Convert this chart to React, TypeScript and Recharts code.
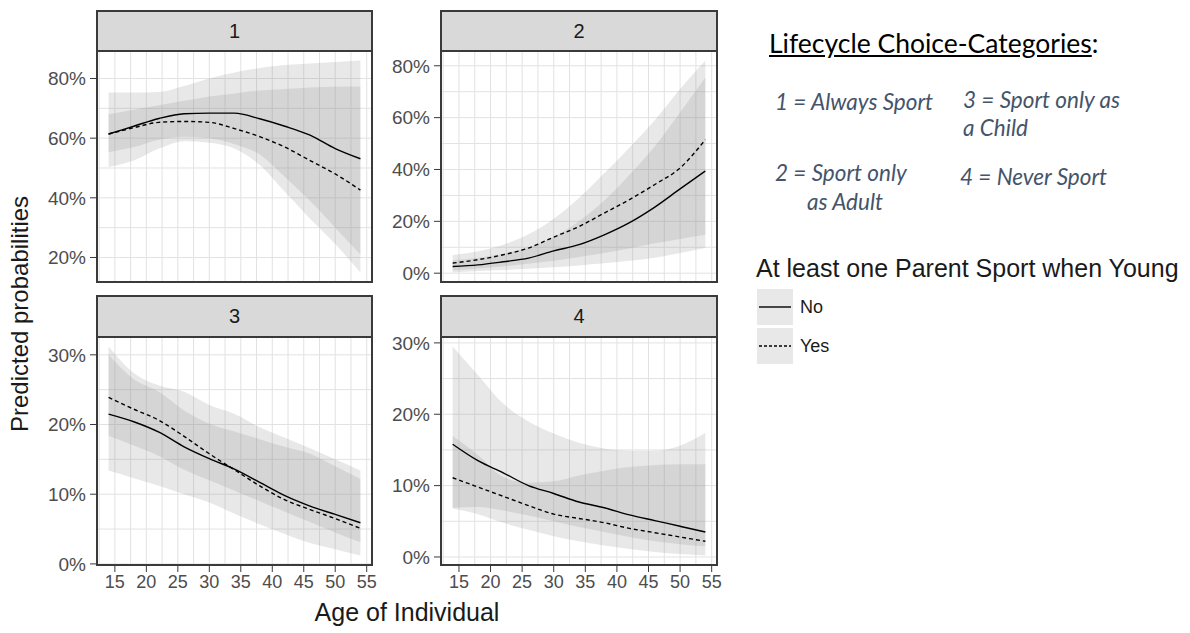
import React from 'react';
import { ComposedChart, Area, Line, XAxis, YAxis, CartesianGrid } from 'recharts';

const ages = [14, 18, 22, 26, 30, 34, 38, 42, 46, 50, 54];
const ageTicks = [15, 20, 25, 30, 35, 40, 45, 50, 55];
const ageMinor = [12.5, 17.5, 22.5, 27.5, 32.5, 37.5, 42.5, 47.5, 52.5];

// 1 = Always Sport
const c1NoFit = [61.4, 64, 66.6, 68.2, 68.4, 68.4, 66.5, 64, 61, 56.5, 53.1];
const c1NoLow = [55.3, 57, 59.5, 60.5, 60, 58, 54.5, 47, 39, 30, 21];
const c1NoHigh = [75.3, 75.3, 75.5, 77.5, 80, 82, 83.5, 84.5, 85, 85.5, 86];
const c1YesFit = [61.4, 63.5, 65.3, 65.6, 65.3, 63.2, 60.5, 57, 52.5, 48, 42.6];
const c1YesLow = [50.3, 52.5, 56.5, 59, 58.5, 56.5, 51, 42, 33, 24.5, 15];
const c1YesHigh = [68, 69.5, 71, 72.5, 74, 75, 76, 76.5, 77, 77.2, 77.3];

// 2 = Sport only as Adult
const c2NoFit = [2.6, 3.2, 4.4, 5.8, 8.6, 11, 14.8, 19.5, 25.5, 32.5, 39.4];
const c2NoLow = [0.3, 0.8, 1.2, 1.7, 2.3, 3, 3.8, 4.8, 6, 7.8, 9.7];
const c2NoHigh = [5, 6, 7.5, 10, 14, 20, 28, 38, 49, 62, 75.5];
const c2YesFit = [3.9, 5.2, 7.1, 9.7, 13.9, 18, 23.2, 28.4, 34.2, 40.6, 51.5];
const c2YesLow = [1, 1.8, 2.6, 3.6, 4.8, 6.2, 7.8, 9.5, 11.5, 13.2, 14.8];
const c2YesHigh = [7, 8.5, 11, 15, 21, 29, 38.5, 48.5, 59, 71, 82];

// 3 = Sport only as a Child
const c3NoFit = [21.5, 20.4, 18.9, 16.8, 15.1, 13.6, 11.7, 9.8, 8.3, 7.1, 5.9];
const c3NoLow = [18.4, 17, 15.5, 13.5, 12, 10.5, 9, 7.5, 6, 4.5, 3.1];
const c3NoHigh = [30, 26.5, 24.7, 22, 20.1, 19, 17.9, 16.8, 15.8, 14, 12.2];
const c3YesFit = [23.9, 22.2, 20.6, 18.3, 15.8, 13.5, 11.2, 9.2, 7.8, 6.5, 5.1];
const c3YesLow = [13.4, 12.3, 11.2, 10, 8.8, 7.2, 5.7, 4.3, 3, 2.1, 1.2];
const c3YesHigh = [31.2, 27.4, 25.6, 24.7, 22.8, 21.5, 19.6, 18.1, 16.6, 15, 13.4];

// 4 = Never Sport
const c4NoFit = [15.8, 13.5, 11.8, 10, 8.9, 7.7, 6.9, 5.9, 5.1, 4.3, 3.5];
const c4NoLow = [6.9, 7, 6.5, 5.8, 5, 4.2, 3.5, 2.8, 2.2, 1.8, 1.5];
const c4NoHigh = [29.5, 25.5, 21.5, 19, 17.3, 16, 15.2, 14.9, 14.9, 15.6, 17.4];
const c4YesFit = [11.1, 9.8, 8.5, 7.2, 6, 5.4, 4.8, 4, 3.4, 2.8, 2.2];
const c4YesLow = [6.8, 6, 4.8, 3.8, 2.9, 2.2, 1.6, 1.1, 0.7, 0.4, 0.2];
const c4YesHigh = [17, 14.3, 11.2, 10.4, 10.6, 11.4, 12.1, 12.6, 12.9, 13, 13];

const X_DOMAIN = [12, 56];
const Y_W = 60;
const X_H = 32;
const MT = 14; // room above the plot so the top tick label is not clipped
const MR = 16; // room right of the plot for the "55" label
const BORDER = '#3a3a3a';
const RIBBON = '#8c8c8c';

function buildRows(noFit, noLow, noHigh, yesFit, yesLow, yesHigh) {
  return ages.map((age, i) => ({
    age,
    noFit: noFit[i],
    yesFit: yesFit[i],
    noBand: [noLow[i], noHigh[i]],
    yesBand: [yesLow[i], yesHigh[i]],
  }));
}

// ggplot-style 5% expansion of the data range
function expand(...arrs) {
  const all = arrs.flat();
  const lo = Math.min(...all);
  const hi = Math.max(...all);
  const pad = (hi - lo) * 0.05;
  return [lo - pad, hi + pad];
}

// grid positions through the axis scale (fallback: linear over the plot box)
function gridX(values) {
  return ({ xAxis, offset }) => {
    const s = xAxis && xAxis.scale;
    if (typeof s === 'function') return values.map((v) => s(v));
    return values.map((v) => offset.left + ((v - X_DOMAIN[0]) / (X_DOMAIN[1] - X_DOMAIN[0])) * offset.width);
  };
}
function gridY(values, domain) {
  return ({ yAxis, offset }) => {
    const s = yAxis && yAxis.scale;
    if (typeof s === 'function') return values.map((v) => s(v));
    return values.map((v) => offset.top + ((domain[1] - v) / (domain[1] - domain[0])) * offset.height);
  };
}

function Panel({ label, rows, domain, yTicks, yMinor, left, top, plotW, plotH, stripTop, showX }) {
  const h = MT + plotH + (showX ? X_H : 0);
  return (
    <>
      <div
        style={{
          position: 'absolute',
          left,
          top: stripTop,
          width: plotW,
          height: top - stripTop + 2,
          boxSizing: 'border-box',
          background: '#d9d9d9',
          border: `2px solid ${BORDER}`,
          display: 'flex',
          alignItems: 'center',
          justifyContent: 'center',
          fontSize: 20,
          color: '#1a1a1a',
        }}
      >
        {label}
      </div>
      <div style={{ position: 'absolute', left: left - Y_W, top: top - MT }}>
        <ComposedChart width={Y_W + plotW + MR} height={h} data={rows} margin={{ top: MT, right: MR, bottom: 0, left: 0 }}>
          <CartesianGrid
            stroke="#e2e2e2"
            verticalCoordinatesGenerator={gridX([...ageMinor, ...ageTicks])}
            horizontalCoordinatesGenerator={gridY([...yMinor, ...yTicks], domain)}
          />
          <XAxis
            dataKey="age"
            type="number"
            domain={X_DOMAIN}
            ticks={ageTicks}
            interval={0}
            hide={!showX}
            height={X_H}
            axisLine={false}
            tickLine={{ stroke: BORDER }}
            tickSize={6}
            tickMargin={3}
            tick={{ fill: '#4d4d4d', fontSize: 18 }}
            allowDataOverflow
          />
          <YAxis
            type="number"
            domain={domain}
            ticks={yTicks}
            interval={0}
            width={Y_W}
            axisLine={false}
            tickLine={{ stroke: BORDER }}
            tickSize={6}
            tickMargin={4}
            tick={{ fill: '#4d4d4d', fontSize: 19 }}
            tickFormatter={(v) => `${v}%`}
            allowDataOverflow
          />
          <Area dataKey="noBand" type="monotone" fill={RIBBON} fillOpacity={0.2} stroke="none" isAnimationActive={false} />
          <Area dataKey="yesBand" type="monotone" fill={RIBBON} fillOpacity={0.2} stroke="none" isAnimationActive={false} />
          <Line dataKey="noFit" type="monotone" stroke="#000" strokeWidth={1.4} dot={false} isAnimationActive={false} />
          <Line
            dataKey="yesFit"
            type="monotone"
            stroke="#000"
            strokeWidth={1.4}
            strokeDasharray="4 3"
            dot={false}
            isAnimationActive={false}
          />
        </ComposedChart>
      </div>
      <div
        style={{
          position: 'absolute',
          left,
          top,
          width: plotW,
          height: plotH,
          boxSizing: 'border-box',
          border: `2px solid ${BORDER}`,
          pointerEvents: 'none',
        }}
      />
    </>
  );
}

const note = { position: 'absolute', fontFamily: 'Lato, "Open Sans", sans-serif', fontStyle: 'italic', fontSize: 22.5, color: '#44546a', lineHeight: 1, whiteSpace: 'nowrap' };

export default function App() {
  const rows1 = buildRows(c1NoFit, c1NoLow, c1NoHigh, c1YesFit, c1YesLow, c1YesHigh);
  const rows2 = buildRows(c2NoFit, c2NoLow, c2NoHigh, c2YesFit, c2YesLow, c2YesHigh);
  const rows3 = buildRows(c3NoFit, c3NoLow, c3NoHigh, c3YesFit, c3YesLow, c3YesHigh);
  const rows4 = buildRows(c4NoFit, c4NoLow, c4NoHigh, c4YesFit, c4YesLow, c4YesHigh);

  return (
    <div
      style={{
        position: 'absolute',
        left: 0,
        top: 0,
        width: 1190,
        height: 633,
        background: '#fff',
        fontFamily: '"Liberation Sans", Arial, sans-serif',
        overflow: 'hidden',
      }}
    >
      <Panel label="1" rows={rows1} domain={expand(c1NoLow, c1NoHigh, c1YesLow, c1YesHigh)}
        yTicks={[20, 40, 60, 80]} yMinor={[30, 50, 70]} left={96} top={50} plotW={277} plotH={233} stripTop={10} showX={false} />
      <Panel label="2" rows={rows2} domain={expand(c2NoLow, c2NoHigh, c2YesLow, c2YesHigh)}
        yTicks={[0, 20, 40, 60, 80]} yMinor={[10, 30, 50, 70]} left={440} top={50} plotW={278} plotH={233} stripTop={10} showX={false} />
      <Panel label="3" rows={rows3} domain={expand(c3NoLow, c3NoHigh, c3YesLow, c3YesHigh)}
        yTicks={[0, 10, 20, 30]} yMinor={[5, 15, 25]} left={96} top={336} plotW={277} plotH={230} stripTop={295} showX />
      <Panel label="4" rows={rows4} domain={expand(c4NoLow, c4NoHigh, c4YesLow, c4YesHigh)}
        yTicks={[0, 10, 20, 30]} yMinor={[5, 15, 25]} left={440} top={336} plotW={278} plotH={230} stripTop={295} showX />

      <svg width={1190} height={633} style={{ position: 'absolute', left: 0, top: 0, pointerEvents: 'none' }}>
        <text x={407} y={621} textAnchor="middle" fontSize={25} fill="#1a1a1a">Age of Individual</text>
        <text transform="translate(28,314) rotate(-90)" textAnchor="middle" fontSize={24} fill="#1a1a1a">Predicted probabilities</text>
        <text x={756} y={277} fontSize={25} fill="#1a1a1a">At least one Parent Sport when Young</text>
        <rect x={757} y={289} width={36} height={36} fill="#e8e8e8" />
        <rect x={757} y={328} width={36} height={36} fill="#e8e8e8" />
        <line x1={759} x2={791} y1={307} y2={307} stroke="#000" strokeWidth={1.4} />
        <line x1={759} x2={791} y1={346} y2={346} stroke="#000" strokeWidth={1.4} strokeDasharray="3 2" />
        <text x={800} y={313} fontSize={18} fill="#1a1a1a">No</text>
        <text x={800} y={352} fontSize={18} fill="#1a1a1a">Yes</text>
      </svg>

      <div style={{ position: 'absolute', left: 769, top: 30, fontFamily: 'Lato, "Open Sans", sans-serif', fontSize: 26.5, lineHeight: 1, color: '#000', whiteSpace: 'nowrap' }}>
        <span style={{ textDecoration: 'underline' }}>Lifecycle Choice-Categories</span>:
      </div>
      <div style={{ ...note, left: 775, top: 91 }}>1 = Always Sport</div>
      <div style={{ ...note, left: 963, top: 89 }}>3 = Sport only as</div>
      <div style={{ ...note, left: 963, top: 117 }}>a Child</div>
      <div style={{ ...note, left: 775, top: 162 }}>2 = Sport only</div>
      <div style={{ ...note, left: 807, top: 191 }}>as Adult</div>
      <div style={{ ...note, left: 960, top: 166 }}>4 = Never Sport</div>
    </div>
  );
}
